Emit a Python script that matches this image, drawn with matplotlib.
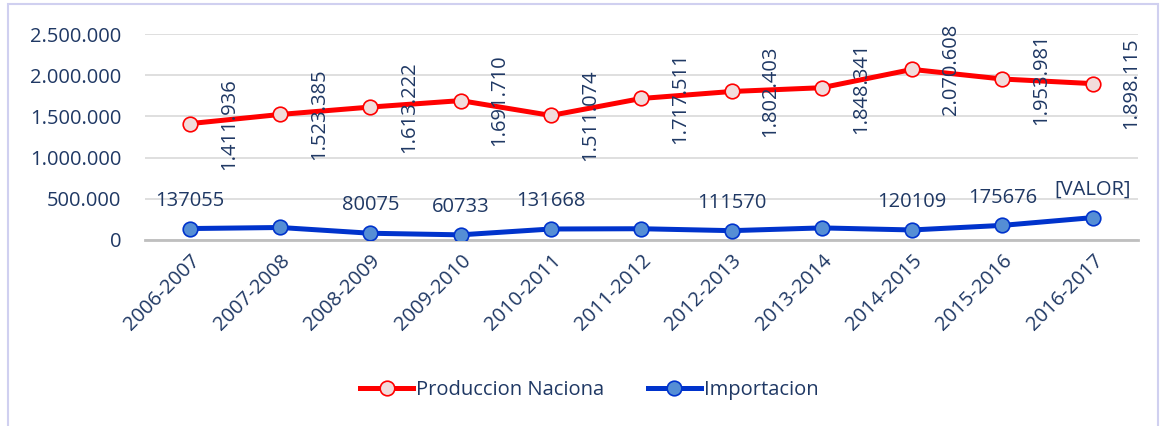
import matplotlib.pyplot as plt
from matplotlib.ticker import FuncFormatter
from matplotlib.patches import Rectangle

plt.rcParams['font.family'] = ['Open Sans', 'DejaVu Sans']

years = ['2006-2007', '2007-2008', '2008-2009', '2009-2010', '2010-2011', '2011-2012',
         '2012-2013', '2013-2014', '2014-2015', '2015-2016', '2016-2017']

produccion = [1411936, 1523385, 1613222, 1691710, 1511074, 1717511,
              1802403, 1848341, 2070608, 1953981, 1898115]
prod_labels = ['1.411.936', '1.523.385', '1.613.222', '1.691.710', '1.511.074', '1.717.511',
               '1.802.403', '1.848.341', '2.070.608', '1.953.981', '1.898.115']

importacion = [137055, 150000, 80075, 60733, 131668, 135000,
               111570, 145000, 120109, 175676, 270000]
imp_labels = ['137055', '', '80075', '60733', '131668', '',
              '111570', '', '120109', '175676', '[VALOR]']

txt = '#1F3864'
fs = 14.5

fig = plt.figure(figsize=(11.67, 4.26), dpi=100)
ax = fig.add_axes([0.124, 0.437, 0.851, 0.483])
x = range(len(years))

ax.plot(x, produccion, color='#FF0000', lw=3.6, marker='o', ms=10.5,
        mfc='#F2DCDB', mec='#FF0000', mew=1.2, label='Produccion Naciona', zorder=3)
ax.plot(x, importacion, color='#0033CC', lw=3.6, marker='o', ms=10.5,
        mfc='#558ED5', mec='#0033CC', mew=1.2, label='Importacion', zorder=3)

for i, v in enumerate(produccion):
    ax.annotate(prod_labels[i], (i, v), xytext=(28, 0), textcoords='offset points',
                rotation=90, ha='center', va='center', fontsize=fs, color=txt)
for i, v in enumerate(importacion):
    if imp_labels[i]:
        ax.annotate(imp_labels[i], (i, v), xytext=(0, 20), textcoords='offset points',
                    ha='center', va='center', fontsize=fs, color=txt)

ax.set_xlim(-0.5, len(years) - 0.5)
ax.set_ylim(0, 2500000)
ax.set_yticks([0, 500000, 1000000, 1500000, 2000000, 2500000])
ax.yaxis.set_major_formatter(FuncFormatter(lambda v, p: f'{int(v):,}'.replace(',', '.')))
ax.set_xticks(list(x))
ax.set_xticklabels(years, rotation=45, ha='right', rotation_mode='anchor')
ax.tick_params(axis='both', length=0, labelsize=fs, labelcolor=txt)
ax.tick_params(axis='y', pad=17)
ax.tick_params(axis='x', pad=8)
ax.grid(axis='y', color='#D9D9D9', lw=1.2)
ax.set_axisbelow(True)
for s in ['top', 'right', 'left']:
    ax.spines[s].set_visible(False)
ax.spines['bottom'].set_color('#BFBFBF')
ax.spines['bottom'].set_linewidth(2)

leg = fig.legend(loc='center', bbox_to_anchor=(0.505, 0.085), ncol=2, frameon=False,
                 fontsize=fs, handlelength=2.6, columnspacing=2.2, handletextpad=0.15)
for t in leg.get_texts():
    t.set_color(txt)

fig.patches.append(Rectangle((0.007, -0.01), 0.985, 1.0, transform=fig.transFigure,
                             fill=False, edgecolor='#D0D0F0', lw=1.5))

fig.savefig('out.png', dpi=100)
